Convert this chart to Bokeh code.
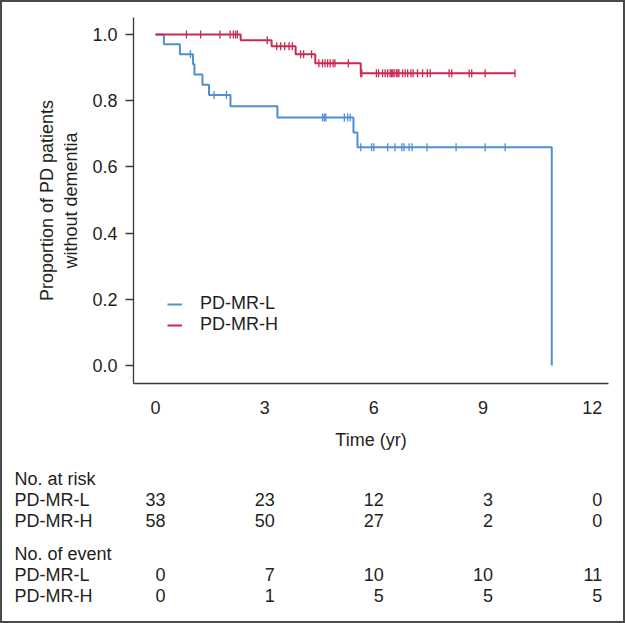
import numpy as np
from bokeh.plotting import figure
from bokeh.models import (Range1d, FixedTicker, Legend, LegendItem, ColumnDataSource,
                          NumeralTickFormatter)
from bokeh.layouts import column
from bokeh.embed import file_html
from bokeh.resources import INLINE
from bokeh.core.properties import value

# ---------------- data ----------------
groups = ["PD-MR-L", "PD-MR-H"]

# PD-MR-L: step times and survival levels
l_step_t = [0, 0.23, 0.67, 1.03, 1.07, 1.29, 1.47, 2.06, 3.35, 5.44, 5.55, 10.89]
l_step_s = [1.0, 0.970, 0.940, 0.910, 0.879, 0.848, 0.817, 0.783, 0.749, 0.704, 0.659, 0.0]
l_cens_t = [0.96, 1.61, 1.95, 4.59, 4.64, 4.68, 5.19, 5.28, 5.35,
            5.64, 5.94, 6.00, 6.38, 6.58, 6.77, 6.83, 6.97, 7.05, 7.46, 8.26, 9.06, 9.61]

# PD-MR-H
h_step_t = [0, 2.34, 3.19, 3.85, 4.39, 5.64, 9.88]
h_step_s = [1.0, 0.982, 0.964, 0.940, 0.913, 0.883, 0.883]
h_cens_t = [0.85, 1.24, 1.77, 2.05, 2.14, 2.20, 2.25,
            3.07,
            3.33, 3.44, 3.55, 3.67, 3.76,
            3.99, 4.07, 4.29,
            4.49, 4.59, 4.66, 4.73, 4.80, 4.88, 4.93, 5.30,
            5.64, 5.67,
            6.07, 6.13, 6.24, 6.31, 6.38, 6.45, 6.49, 6.52, 6.56, 6.62, 6.66, 6.69,
            6.79, 6.86, 6.93, 7.02, 7.08, 7.20, 7.34, 7.47, 7.55, 8.07, 8.14,
            8.62, 8.69, 9.06, 9.88]

time_ticks = [0, 3, 6, 9, 12]
y_ticks = [0.0, 0.2, 0.4, 0.6, 0.8, 1.0]
risk_l = [33, 23, 12, 3, 0]
risk_h = [58, 50, 27, 2, 0]
event_l = [0, 7, 10, 10, 11]
event_h = [0, 1, 5, 5, 5]

# ---------------- style / layout ----------------
FONT = "Liberation Sans"
FS = "18px"
TXT = "#231f20"
AX = "#3a3a3a"
BLUE = "#4f8fd4"
RED = "#cc2952"

BORDER = 2
W = 625 - 2 * BORDER
H1 = 460
H2 = 623 - 2 * BORDER - H1
LEFT, RIGHT, TOP, BOTTOM = 131, 15, 15, 79
X0, X1 = -0.605, 12.449
Y0, Y1 = -0.054, 1.051


def level_at(step_t, step_s, ts):
    idx = np.searchsorted(np.array(step_t), np.array(ts), side="right") - 1
    return [step_s[i] for i in idx]


p = figure(width=W, height=H1, output_backend="svg", toolbar_location=None,
           x_range=Range1d(X0, X1), y_range=Range1d(Y0, Y1),
           min_border_left=LEFT, min_border_right=RIGHT,
           min_border_top=TOP, min_border_bottom=BOTTOM)
p.frame_align = False
p.outline_line_color = None
p.xgrid.visible = False
p.ygrid.visible = False
p.background_fill_color = "white"
p.border_fill_color = "white"

r_l = p.step(l_step_t, l_step_s, mode="after", line_color=BLUE, line_width=2)
r_h = p.step(h_step_t, h_step_s, mode="after", line_color=RED, line_width=2)
p.scatter(l_cens_t, level_at(l_step_t, l_step_s, l_cens_t), marker="dash",
          angle=np.pi / 2, size=8, line_color=BLUE, line_width=1.3)
p.scatter(h_cens_t, level_at(h_step_t, h_step_s, h_cens_t), marker="dash",
          angle=np.pi / 2, size=8, line_color=RED, line_width=1.3)

for ax in (p.xaxis[0], p.yaxis[0]):
    ax.axis_line_color = AX
    ax.axis_line_width = 1.3
    ax.major_tick_line_color = AX
    ax.major_tick_line_width = 1.3
    ax.minor_tick_line_color = None
    ax.major_label_text_font = FONT
    ax.major_label_text_font_size = FS
    ax.major_label_text_color = TXT
    ax.axis_label_text_font = FONT
    ax.axis_label_text_font_size = FS
    ax.axis_label_text_color = TXT
    ax.axis_label_text_font_style = "normal"

p.xaxis.ticker = FixedTicker(ticks=time_ticks)
p.xaxis.major_tick_out = 0
p.xaxis.major_tick_in = 0
p.xaxis.major_label_standoff = 17
p.xaxis.axis_label = "Time (yr)"
p.xaxis.axis_label_standoff = 13

p.yaxis.ticker = FixedTicker(ticks=y_ticks)
p.yaxis.formatter = NumeralTickFormatter(format="0.0")
p.yaxis.major_tick_out = 8
p.yaxis.major_tick_in = 0
p.yaxis.major_label_standoff = 8
p.yaxis.axis_label = "Proportion of PD patients\nwithout dementia"
p.yaxis.axis_label_standoff = 8

legend = Legend(items=[LegendItem(label=groups[0], renderers=[r_l]),
                       LegendItem(label=groups[1], renderers=[r_h])],
                location=(34, 48), padding=0, margin=0, spacing=0,
                glyph_width=15, glyph_height=20, label_height=20,
                label_standoff=18, border_line_color=None,
                background_fill_alpha=0,
                label_text_font=FONT, label_text_font_size=FS,
                label_text_color=TXT)
p.add_layout(legend)

# ---------------- risk table: own figure, same time scale ----------------
ppu = (W - LEFT - RIGHT) / (X1 - X0)
tx0 = X0 - LEFT / ppu
tx1 = X1 + RIGHT / ppu
t = figure(width=W, height=H2, output_backend="svg", toolbar_location=None,
           x_range=Range1d(tx0, tx1), y_range=Range1d(H2, 0),
           min_border=0, min_border_left=0, min_border_right=0,
           min_border_top=0, min_border_bottom=0)
t.frame_align = False
t.axis.visible = False
t.xgrid.visible = False
t.ygrid.visible = False
t.outline_line_color = None
t.background_fill_color = "white"
t.border_fill_color = "white"

row_y = [16, 37, 58, 91, 112, 133]
heads = ["No. at risk", groups[0], groups[1], "No. of event", groups[0], groups[1]]
t.text(x=[tx0] * len(heads), y=row_y, text=heads, x_offset=12,
       text_align="left", text_baseline="middle",
       text_font=value(FONT), text_font_size=FS, text_color=TXT)

rows = [(row_y[1], risk_l), (row_y[2], risk_h), (row_y[4], event_l), (row_y[5], event_h)]
xs, ys, txts = [], [], []
for yy, vals in rows:
    for tt, v in zip(time_ticks, vals):
        xs.append(tt)
        ys.append(yy)
        txts.append(str(v))
t.text(x=xs, y=ys, text=txts, x_offset=10, text_align="right",
       text_baseline="middle", text_font=value(FONT), text_font_size=FS,
       text_color=TXT)

layout = column(p, t, spacing=0,
                styles={"border": f"{BORDER}px solid #4a4a4a"})

open("out.html", "w").write(file_html(layout, INLINE))
